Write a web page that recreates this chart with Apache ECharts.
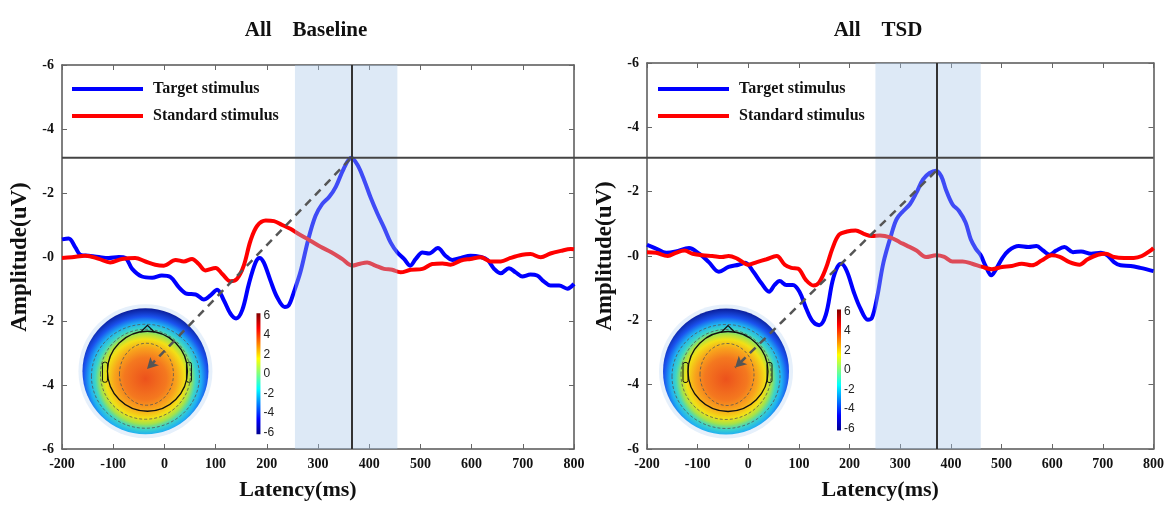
<!DOCTYPE html>
<html>
<head>
<meta charset="utf-8">
<title>ERP Baseline / TSD</title>
<script src="https://cdn.jsdelivr.net/npm/echarts@6/dist/echarts.min.js"></script>
<style>
html, body { margin: 0; padding: 0; background: #fff; }
#main { width: 1167px; height: 506px; }
</style>
</head>
<body>
<div id="main"></div>
<script>
// ---- data ----
var titles = ['All    Baseline', 'All    TSD'];
var seriesNames = ['Target stimulus', 'Standard stimulus'];

var baseTarget = [[-200,-0.55],[-187,-0.58],[-174,-0.30],[-164,-0.07],[-148,-0.04],[-128,0.0],[-109,0.03],[-89,0.0],[-76,0.03],[-63,0.37],[-44,0.61],[-24,0.65],[-5,0.58],[12,0.63],[28,0.94],[44,1.15],[61,1.17],[77,1.33],[90,1.20],[103,1.02],[116,1.35],[129,1.77],[140,1.92],[152,1.66],[165,0.84],[178,0.17],[186,0.03],[194,0.17],[207,0.73],[220,1.25],[235,1.56],[243,1.51],[253,1.09],[266,0.45],[281,-0.55],[295,-1.28],[308,-1.65],[322,-1.88],[335,-2.2],[350,-2.75],[365,-3.10],[377,-2.88],[390,-2.41],[403,-1.85],[416,-1.36],[429,-0.92],[442,-0.45],[455,-0.14],[468,0.06],[480,0.27],[491,0.06],[504,-0.14],[517,-0.11],[534,-0.28],[549,-0.04],[562,0.09],[579,0.03],[598,-0.04],[618,0.0],[631,0.09],[644,0.37],[657,0.51],[673,0.35],[686,0.48],[699,0.61],[715,0.55],[728,0.58],[741,0.76],[754,0.89],[771,0.89],[787,0.99],[800,0.84]];
var baseStandard = [[-200,0.03],[-181,0.01],[-154,-0.04],[-128,0.06],[-106,0.17],[-83,0.06],[-57,0.03],[-37,0.14],[-18,0.24],[-1,0.27],[22,0.09],[38,0.14],[54,0.06],[67,0.22],[80,0.42],[100,0.34],[113,0.53],[129,0.76],[142,0.68],[155,0.27],[168,-0.50],[181,-0.97],[198,-1.14],[214,-1.12],[230,-1.00],[246,-0.88],[263,-0.71],[285,-0.51],[305,-0.32],[326,-0.15],[347,0.06],[367,0.27],[380,0.22],[396,0.17],[412,0.27],[429,0.37],[445,0.40],[461,0.48],[481,0.40],[504,0.37],[523,0.22],[543,0.20],[559,0.24],[579,0.11],[598,0.06],[618,0.01],[637,0.14],[657,0.14],[676,0.03],[699,-0.07],[715,-0.09],[735,0.01],[754,-0.11],[774,-0.19],[794,-0.25],[800,-0.24]];
var tsdTarget = [[-200,-0.35],[-182,-0.23],[-162,-0.10],[-143,-0.14],[-117,-0.25],[-97,-0.07],[-78,0.19],[-58,0.49],[-39,0.34],[-19,0.27],[-6,0.21],[10,0.49],[26,0.85],[41,1.11],[52,0.90],[62,0.78],[75,0.90],[88,0.90],[101,1.11],[114,1.62],[127,2.03],[140,2.15],[153,1.83],[166,0.80],[176,0.34],[184,0.24],[195,0.49],[208,1.11],[221,1.62],[236,1.98],[244,1.93],[254,1.31],[267,0.19],[283,-0.70],[293,-1.15],[306,-1.40],[319,-1.61],[332,-1.97],[345,-2.38],[358,-2.58],[371,-2.65],[381,-2.48],[390,-2.07],[403,-1.61],[416,-1.40],[429,-1.04],[439,-0.53],[449,-0.23],[459,-0.02],[468,0.29],[480,0.60],[488,0.44],[501,0.08],[514,-0.17],[534,-0.31],[553,-0.28],[569,-0.31],[582,-0.17],[595,-0.04],[608,-0.17],[624,-0.28],[641,-0.12],[657,-0.14],[677,-0.07],[696,-0.10],[709,-0.02],[722,0.19],[735,0.29],[755,0.31],[774,0.37],[800,0.47]];
var tsdStandard = [[-200,-0.12],[-182,-0.10],[-159,0.0],[-143,-0.10],[-126,-0.17],[-110,-0.07],[-91,-0.02],[-71,0.0],[-52,0.03],[-39,0.0],[-22,0.08],[0,0.27],[17,0.19],[36,0.10],[56,0.0],[72,0.27],[85,0.37],[98,0.39],[114,0.75],[129,0.92],[140,0.82],[153,0.39],[166,-0.23],[179,-0.66],[195,-0.76],[212,-0.79],[228,-0.69],[244,-0.62],[260,-0.64],[280,-0.58],[299,-0.43],[312,-0.33],[332,-0.17],[351,0.03],[371,-0.02],[387,0.03],[403,0.17],[423,0.17],[442,0.24],[462,0.34],[481,0.41],[501,0.34],[520,0.31],[540,0.24],[560,0.29],[579,0.14],[599,-0.02],[615,0.03],[634,0.19],[654,0.27],[670,0.10],[690,-0.04],[706,-0.07],[722,0.03],[742,0.06],[761,0.06],[777,0.0],[794,-0.17],[800,-0.25]];

var shadeRange = [[255, 455], [251, 459]];
var peakLatency = [366, 372];
var peakLine = -3.1;
var arrowFrom = [[362, -3.05], [370, -2.63]];
var arrowTo = [[-34, 3.5], [-26, 3.47]];
var topoCenter = [[-37, 3.57], [-44, 3.59]];
var colorbarTicks = [6, 4, 2, 0, -2, -4, -6];

var serif = "'Liberation Serif', 'Times New Roman', serif";
var axisColor = '#555';

var myChart = echarts.init(document.getElementById('main'));

function bottomAxis(grid) {
	return {
		gridIndex : grid, type : 'value', min : -200, max : 800, interval : 100,
		axisLine : { show : true, onZero : false, lineStyle : { color : axisColor, width : 1.5 } },
		axisTick : { inside : true, length : 5, lineStyle : { color : '#666' } },
		splitLine : { show : false },
		axisLabel : { fontFamily : serif, fontWeight : 'bold', fontSize : 14, color : '#111', margin : 8 },
		name : 'Latency(ms)', nameLocation : 'middle', nameGap : 30,
		nameTextStyle : { fontFamily : serif, fontWeight : 'bold', fontSize : 22, color : '#111', padding : [0, 40, 0, 0] }
	};
}
function topAxis(grid) {
	return {
		gridIndex : grid, type : 'value', position : 'top', min : -200, max : 800, interval : 100,
		axisLine : { show : true, onZero : false, lineStyle : { color : axisColor, width : 1.5 } },
		axisTick : { inside : true, length : 5, lineStyle : { color : '#666' } },
		axisLabel : { show : false }, splitLine : { show : false }
	};
}
function leftAxis(grid) {
	return {
		gridIndex : grid, type : 'value', inverse : true, min : -6, max : 6, interval : 2,
		axisLine : { show : true, onZero : false, lineStyle : { color : axisColor, width : 1.5 } },
		axisTick : { show : true, inside : true, length : 5, lineStyle : { color : '#666' } },
		splitLine : { show : false },
		axisLabel : {
			fontFamily : serif, fontWeight : 'bold', fontSize : 14, color : '#111', margin : 8,
			formatter : function(v) { return '-' + Math.abs(v); }
		},
		name : 'Amplitude(uV)', nameLocation : 'middle', nameGap : 30,
		nameTextStyle : { fontFamily : serif, fontWeight : 'bold', fontSize : 23, color : '#111' }
	};
}
function rightAxis(grid) {
	return {
		gridIndex : grid, type : 'value', position : 'right', inverse : true, min : -6, max : 6, interval : 2,
		axisLine : { show : true, onZero : false, lineStyle : { color : axisColor, width : 1.5 } },
		axisTick : { show : true, inside : true, length : 5, lineStyle : { color : '#666' } },
		axisLabel : { show : false }, splitLine : { show : false }
	};
}

function curve(name, color, data, axis) {
	return {
		name : name, type : 'line', xAxisIndex : axis, yAxisIndex : axis, data : data,
		smooth : 0.35, symbol : 'none', z : 2,
		lineStyle : { color : color, width : 4 }, itemStyle : { color : color }
	};
}

function helper(i, axis) {
	return {
		type : 'line', xAxisIndex : axis, yAxisIndex : axis, data : [], silent : true,
		markArea : {
			silent : true, z : 3,
			itemStyle : { color : 'rgba(166,198,232,0.38)' },
			data : [ [ { xAxis : shadeRange[i][0] }, { xAxis : shadeRange[i][1] } ] ]
		},
		markLine : {
			silent : true, z : 5, animation : false,
			label : { show : false },
			symbol : [ 'none', 'none' ],
			data : [
				{ xAxis : peakLatency[i], lineStyle : { color : '#333', width : 2, type : 'solid' } },
				[ { coord : arrowFrom[i], symbol : 'none', lineStyle : { color : '#555', width : 2.5, type : [8, 6] } },
				  { coord : arrowTo[i], symbol : 'arrow', symbolSize : [9, 11], itemStyle : { color : '#444' } } ]
			]
		}
	};
}

function legend(left, top) {
	return {
		data : seriesNames, left : left, top : top, padding : 0, orient : 'vertical', icon : 'rect',
		itemWidth : 71, itemHeight : 4, itemGap : 11, selectedMode : false,
		textStyle : { fontFamily : serif, fontWeight : 'bold', fontSize : 16, color : '#111', padding : [0, 0, 0, 5] }
	};
}

var option = {
	animation : false,
	backgroundColor : '#fff',
	title : [
		{ text : titles[0], left : 301, top : 15, textAlign : 'center',
		  textStyle : { fontFamily : serif, fontWeight : 'bold', fontSize : 21, color : '#111' } },
		{ text : titles[1], left : 873, top : 15, textAlign : 'center',
		  textStyle : { fontFamily : serif, fontWeight : 'bold', fontSize : 21, color : '#111' } }
	],
	legend : [ legend(72, 81), legend(658, 81) ],
	grid : [
		{ left : 62, top : 65, width : 512, height : 389 },
		{ left : 647, top : 63, width : 513, height : 390 }
	],
	xAxis : [ bottomAxis(0), topAxis(0), bottomAxis(1), topAxis(1) ],
	yAxis : [ leftAxis(0), rightAxis(0), leftAxis(1), rightAxis(1) ],
	series : [
		curve(seriesNames[0], '#0000ff', baseTarget, 0),
		curve(seriesNames[1], '#ff0000', baseStandard, 0),
		helper(0, 0),
		curve(seriesNames[0], '#0000ff', tsdTarget, 2),
		curve(seriesNames[1], '#ff0000', tsdStandard, 2),
		helper(1, 2)
	]
};
myChart.setOption(option);

// scalp map inset + colour bar
function topoMap(cx, cy) {
	var jet = [
		{ offset : 0, color : '#ec521c' }, { offset : 0.3, color : '#f4781f' },
		{ offset : 0.44, color : '#f8a41c' }, { offset : 0.56, color : '#f2e016' },
		{ offset : 0.64, color : '#a6e348' }, { offset : 0.71, color : '#3ed6c6' },
		{ offset : 0.79, color : '#1fb0f2' }, { offset : 0.88, color : '#1a52ee' },
		{ offset : 1, color : '#0a1c98' }
	];
	var dash = { stroke : '#555', lineWidth : 0.8, lineDash : [3, 2], fill : null };
	return [
		{ type : 'circle', shape : { cx : cx, cy : cy, r : 67 }, style : { fill : '#e6f0fb' } },
		{ type : 'circle', shape : { cx : cx, cy : cy, r : 63 },
		  style : { fill : { type : 'radial', x : 0.5, y : 0.56, r : 0.56, colorStops : jet } } },
		{ type : 'ellipse', shape : { cx : cx + 1, cy : cy + 3, rx : 27, ry : 31 }, style : dash },
		{ type : 'ellipse', shape : { cx : cx, cy : cy + 3, rx : 45, ry : 45 }, style : dash },
		{ type : 'ellipse', shape : { cx : cx, cy : cy + 5, rx : 54, ry : 52 }, style : dash },
		{ type : 'circle', shape : { cx : cx + 2, cy : cy, r : 40 }, style : { stroke : '#111', lineWidth : 1.3, fill : null } },
		{ type : 'polyline', shape : { points : [ [cx - 5, cy - 39], [cx + 2, cy - 46], [cx + 9, cy - 39] ] },
		  style : { stroke : '#111', lineWidth : 1.2, fill : null } },
		{ type : 'rect', shape : { x : cx - 43, y : cy - 9, width : 5, height : 20, r : 2 }, style : { stroke : '#111', lineWidth : 1, fill : null } },
		{ type : 'rect', shape : { x : cx + 41, y : cy - 9, width : 5, height : 20, r : 2 }, style : { stroke : '#111', lineWidth : 1, fill : null } }
	];
}
function colorBar(x, y, h) {
	var els = [ { type : 'rect', shape : { x : x, y : y, width : 4, height : h },
		style : { fill : { type : 'linear', x : 0, y : 0, x2 : 0, y2 : 1, colorStops : [
			{ offset : 0, color : '#800000' }, { offset : 0.125, color : '#ff0000' },
			{ offset : 0.375, color : '#ffff00' }, { offset : 0.625, color : '#00ffff' },
			{ offset : 0.875, color : '#0000ff' }, { offset : 1, color : '#00008f' } ] } } } ];
	var step = (h - 4) / (colorbarTicks.length - 1);
	colorbarTicks.forEach(function(t, k) {
		els.push({ type : 'text', x : x + 7, y : y + 2 + k * step,
			style : { text : String(t), fontFamily : "'Liberation Sans', Arial, sans-serif", fontSize : 12,
				fill : '#222', verticalAlign : 'middle', align : 'left' } });
	});
	return els;
}

var p0 = myChart.convertToPixel({ xAxisIndex : 0, yAxisIndex : 0 }, topoCenter[0]);
var p1 = myChart.convertToPixel({ xAxisIndex : 2, yAxisIndex : 2 }, topoCenter[1]);
var a = myChart.convertToPixel({ xAxisIndex : 0, yAxisIndex : 0 }, [-200, peakLine]);
var b = myChart.convertToPixel({ xAxisIndex : 2, yAxisIndex : 2 }, [800, peakLine]);

var elements = [].concat(topoMap(p0[0], p0[1]), colorBar(p0[0] + 111, p0[1] - 58, 121),
	topoMap(p1[0], p1[1]), colorBar(p1[0] + 111, p1[1] - 62, 121));
elements.push({ type : 'line', z : 10, shape : { x1 : a[0], y1 : a[1], x2 : b[0], y2 : a[1] },
	style : { stroke : '#444', lineWidth : 2 } });

myChart.setOption({ graphic : { elements : elements } });
</script>
</body>
</html>
